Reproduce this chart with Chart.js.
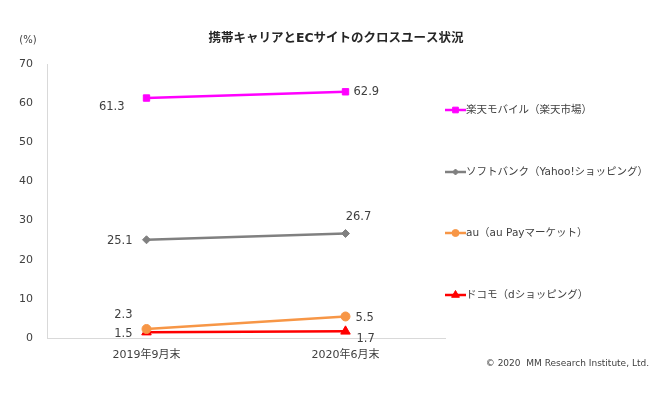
<!DOCTYPE html>
<html><head><meta charset="utf-8">
<script src="https://cdn.jsdelivr.net/npm/chart.js@4"></script>
<style>html,body{margin:0;padding:0;background:#fff}#wrap{width:665px;height:396px;position:relative}</style>
</head><body><div id="wrap"><canvas id="c" width="665" height="396"></canvas></div>
<script>
const categories = ['2019年9月末', '2020年6月末'];
const seriesNames = ['楽天モバイル（楽天市場）', 'ソフトバンク（Yahoo!ショッピング）', 'au（au Payマーケット）', 'ドコモ（dショッピング）'];
const rakuten = [61.3, 62.9];
const softbank = [25.1, 26.7];
const au = [2.3, 5.5];
const docomo = [1.5, 1.7];
const yTicks = [0, 10, 20, 30, 40, 50, 60, 70];

const FONT = '"DejaVu Sans", "Noto Sans CJK JP", sans-serif';
const TXT = '#404040';

// label offsets (dx, dy, align) per series per point
const labelPos = [
  [[-22, 9, 'right'], [8, 0, 'left']],
  [[-14, 1, 'right'], [13, -16, 'center']],
  [[-14, -14, 'right'], [10, 2, 'left']],
  [[-14, 2, 'right'], [11, 8, 'left']]
];

const extras = {
  id: 'extras',
  afterDatasetsDraw(chart) {
    const ctx = chart.ctx;
    ctx.save();
    ctx.font = '11.5px ' + FONT;
    ctx.fillStyle = TXT;
    ctx.textBaseline = 'middle';
    chart.data.datasets.forEach((ds, i) => {
      const meta = chart.getDatasetMeta(i);
      meta.data.forEach((pt, j) => {
        const p = labelPos[i][j];
        ctx.textAlign = p[2];
        ctx.fillText(ds.data[j].toFixed(1), pt.x + p[0], pt.y + p[1]);
      });
    });
    // title
    ctx.font = 'bold 12.5px ' + FONT;
    ctx.fillStyle = '#262626';
    ctx.textAlign = 'center';
    ctx.fillText('携帯キャリアとECサイトのクロスユース状況', 336, 39);
    ctx.font = '10px ' + FONT;
    ctx.fillStyle = TXT;
    ctx.fillText('(%)', 28, 40);
    // copyright
    ctx.font = '9px ' + FONT;
    ctx.textAlign = 'right';
    ctx.fillText('© 2020  MM Research Institute, Ltd.', 649, 364);
    // legend
    const ys = [110, 172, 233, 295];
    chart.data.datasets.forEach((ds, i) => {
      const y = ys[i];
      ctx.strokeStyle = ds.borderColor;
      ctx.fillStyle = ds.borderColor;
      ctx.lineWidth = 2.5;
      ctx.beginPath(); ctx.moveTo(445, y); ctx.lineTo(466, y); ctx.stroke();
      ctx.lineWidth = 1;
      Chart.helpers.drawPoint(ctx, {pointStyle: ds.pointStyle, radius: ds.legendRadius, borderWidth: 1}, 455.5, y);
      ctx.fillStyle = TXT;
      ctx.font = '10.5px ' + FONT;
      ctx.textAlign = 'left';
      ctx.fillText(ds.label, 466, y);
    });
    ctx.restore();
  }
};

function mk(label, data, color, style, r, lr) {
  return {label, data, borderColor: color, backgroundColor: color, pointStyle: style,
    pointRadius: r, pointHoverRadius: r, borderWidth: 2.5, pointBorderWidth: 1,
    pointBackgroundColor: color, pointBorderColor: color, legendRadius: lr, tension: 0};
}

new Chart(document.getElementById('c'), {
  type: 'line',
  data: {
    labels: categories,
    datasets: [
      mk(seriesNames[0], rakuten, '#FF00FF', 'rect', 4.5, 4),
      mk(seriesNames[1], softbank, '#808080', 'rectRot', 4, 3),
      mk(seriesNames[2], au, '#F79646', 'circle', 4.5, 3.5),
      mk(seriesNames[3], docomo, '#FF0000', 'triangle', 5.5, 4.5)
    ]
  },
  options: {
    responsive: false,
    animation: false,
    events: [],
    layout: {padding: {left: 0, right: 220, top: 64, bottom: 0}},
    plugins: {legend: {display: false}, tooltip: {enabled: false}, title: {display: false}},
    scales: {
      x: {
        offset: true,
        grid: {display: false, drawTicks: false},
        border: {display: true, color: '#D9D9D9', width: 1},
        ticks: {color: TXT, font: {family: FONT, size: 11}, padding: 11},
        afterFit: s => { s.height = 58; }
      },
      y: {
        min: 0, max: 70,
        afterBuildTicks: s => { s.ticks = yTicks.map(v => ({value: v})); },
        grid: {display: false, drawTicks: false},
        border: {display: true, color: '#D9D9D9', width: 1},
        ticks: {color: TXT, font: {family: FONT, size: 11}, padding: 14},
        afterFit: s => { s.width = 47; }
      }
    }
  },
  plugins: [extras]
});
</script>
</body></html>
